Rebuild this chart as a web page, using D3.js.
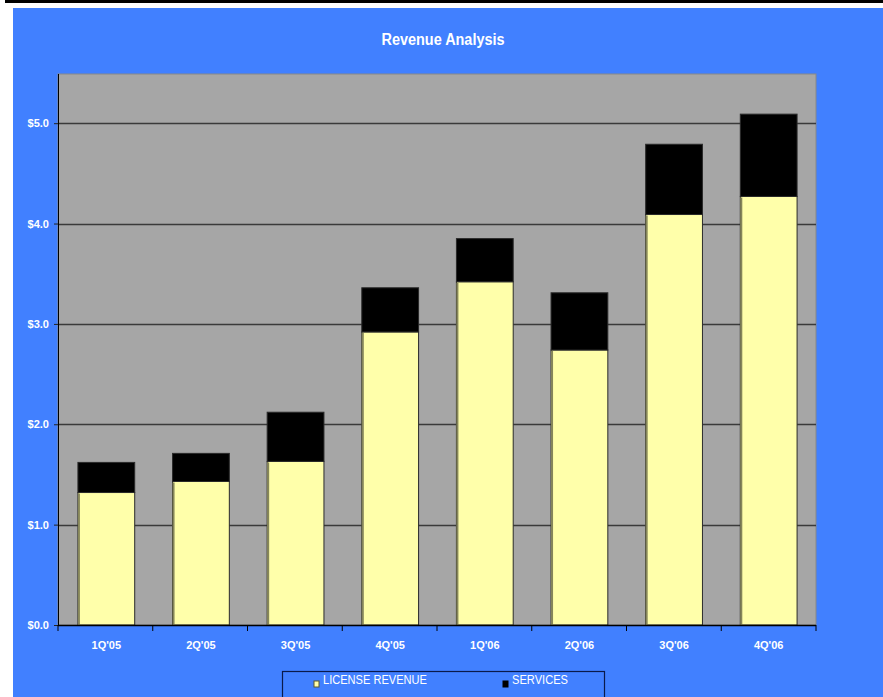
<!DOCTYPE html>
<html>
<head>
<meta charset="utf-8">
<script src="https://cdn.jsdelivr.net/npm/d3@7"></script>
<style>
  body { margin: 0; background: #fff; }
  text { font-family: Arial, "Liberation Sans", sans-serif; }
</style>
</head>
<body>
<div id="chart"></div>
<script>
// chart data (values in $M)
var quarters = ["1Q'05", "2Q'05", "3Q'05", "4Q'05", "1Q'06", "2Q'06", "3Q'06", "4Q'06"];
var licenseRevenue = [1.32, 1.43, 1.63, 2.92, 3.42, 2.74, 4.09, 4.27];
var services = [0.30, 0.28, 0.49, 0.44, 0.43, 0.57, 0.70, 0.82];
var yTicks = [0, 1, 2, 3, 4, 5];
var seriesNames = ["LICENSE REVENUE", "SERVICES"];

var width = 883, height = 697;
var plot = { left: 58, right: 816, top: 74, bottom: 625 };

var svg = d3.select("#chart").append("svg")
    .attr("width", width)
    .attr("height", height);

// background pieces
svg.append("rect").attr("x", 13).attr("y", 8).attr("width", width - 13).attr("height", height - 8)
    .attr("fill", "#4180ff");
svg.append("rect").attr("x", 5).attr("y", 0).attr("width", width - 5).attr("height", 3)
    .attr("fill", "#000");

// title
svg.append("text")
    .attr("x", 443).attr("y", 45)
    .attr("text-anchor", "middle")
    .attr("fill", "#fff")
    .style("font-size", "16px")
    .style("font-weight", "bold")
    .attr("textLength", 123)
    .attr("lengthAdjust", "spacingAndGlyphs")
    .text("Revenue Analysis");

// scales
var x = d3.scaleBand()
    .domain(quarters)
    .range([plot.left + 1, plot.right])
    .paddingInner(0.4)
    .paddingOuter(0.2);

var y = d3.scaleLinear()
    .domain([0, 5.49])
    .range([plot.bottom, plot.top]);

// plot area
svg.append("rect")
    .attr("x", plot.left).attr("y", plot.top)
    .attr("width", plot.right - plot.left).attr("height", plot.bottom - plot.top)
    .attr("fill", "#a6a6a6")
    .attr("stroke", "#888")
    .attr("stroke-width", 1);

// grid lines
svg.selectAll(".grid")
    .data(yTicks.filter(function (d) { return d > 0; }))
    .enter().append("line")
    .attr("class", "grid")
    .attr("x1", plot.left).attr("x2", plot.right)
    .attr("y1", function (d) { return Math.round(y(d)) + 0.5; })
    .attr("y2", function (d) { return Math.round(y(d)) + 0.5; })
    .attr("stroke", "#3a3a3a")
    .attr("stroke-width", 1.5);

// stacked data
var rows = quarters.map(function (q, i) {
    return { q: q, license: licenseRevenue[i], services: services[i] };
});
var stack = d3.stack().keys(["license", "services"]);
var layers = stack(rows);
var fills = ["#ffffaa", "#000000"];

var layer = svg.selectAll(".layer")
    .data(layers)
    .enter().append("g")
    .attr("class", "layer");

layer.selectAll("rect")
    .data(function (d, i) { return d.map(function (v) { v.k = i; return v; }); })
    .enter().append("rect")
    .attr("x", function (d) { return x(d.data.q); })
    .attr("y", function (d) { return y(d[1]); })
    .attr("width", x.bandwidth())
    .attr("height", function (d) { return y(d[0]) - y(d[1]); })
    .attr("fill", function (d) { return fills[d.k]; })
    .attr("stroke", "#2a2a2a")
    .attr("stroke-width", 1);

// olive left edge on the license bars
svg.selectAll(".edge")
    .data(rows)
    .enter().append("line")
    .attr("class", "edge")
    .attr("x1", function (d) { return x(d.q) + 1; })
    .attr("x2", function (d) { return x(d.q) + 1; })
    .attr("y1", function (d) { return y(d.license) + 1; })
    .attr("y2", plot.bottom)
    .attr("stroke", "#86865a")
    .attr("stroke-width", 2);

// y axis
var yAxis = d3.axisLeft(y)
    .tickValues(yTicks)
    .tickSize(4)
    .tickFormat(function (d) { return "$" + d3.format(".1f")(d); });

var gy = svg.append("g")
    .attr("transform", "translate(" + plot.left + ",0)")
    .call(yAxis);
gy.select(".domain").attr("stroke", "#000").attr("d", "M0.5," + plot.top + "V" + plot.bottom);
gy.selectAll(".tick line").attr("stroke", "#222");
gy.selectAll(".tick text")
    .attr("fill", "#fff")
    .attr("x", -9)
    .style("font-size", "11px")
    .style("font-weight", "bold");

// x axis
var gx = svg.append("g")
    .attr("transform", "translate(0," + plot.bottom + ")");
gx.append("line")
    .attr("x1", plot.left).attr("x2", plot.right)
    .attr("y1", 0.5).attr("y2", 0.5)
    .attr("stroke", "#000").attr("stroke-width", 1.5);

var boundaries = d3.range(quarters.length + 1).map(function (i) { return plot.left + i * (plot.right - plot.left) / quarters.length; });
gx.selectAll(".xt")
    .data(boundaries)
    .enter().append("line")
    .attr("class", "xt")
    .attr("x1", function (d) { return d; }).attr("x2", function (d) { return d; })
    .attr("y1", 0).attr("y2", 6)
    .attr("stroke", "#000");

gx.selectAll(".xl")
    .data(quarters)
    .enter().append("text")
    .attr("class", "xl")
    .attr("x", function (d) { return x(d) + x.bandwidth() / 2; })
    .attr("y", 24)
    .attr("text-anchor", "middle")
    .attr("fill", "#fff")
    .style("font-size", "11px")
    .style("font-weight", "bold")
    .text(function (d) { return d; });

// legend
var legend = svg.append("g");
legend.append("rect")
    .attr("x", 282.5).attr("y", 671.5)
    .attr("width", 322).attr("height", 30)
    .attr("fill", "#4180ff")
    .attr("stroke", "#0a1a4a")
    .attr("stroke-width", 1.2);

var legendX = [314, 503];
var item = legend.selectAll(".li")
    .data(seriesNames)
    .enter().append("g")
    .attr("class", "li")
    .attr("transform", function (d, i) { return "translate(" + legendX[i] + ",0)"; });

item.append("rect")
    .attr("x", 0).attr("y", 681)
    .attr("width", 5).attr("height", 6)
    .attr("fill", function (d, i) { return fills[i]; })
    .attr("stroke", function (d, i) { return i === 0 ? "#5a5a30" : "#000"; })
    .attr("stroke-width", 1);

item.append("text")
    .attr("x", 9).attr("y", 684)
    .attr("fill", "#fff")
    .style("font-size", "12px")
    .attr("textLength", function (d, i) { return i === 0 ? 104 : 56; })
    .attr("lengthAdjust", "spacingAndGlyphs")
    .text(function (d) { return d; });
</script>
</body>
</html>
